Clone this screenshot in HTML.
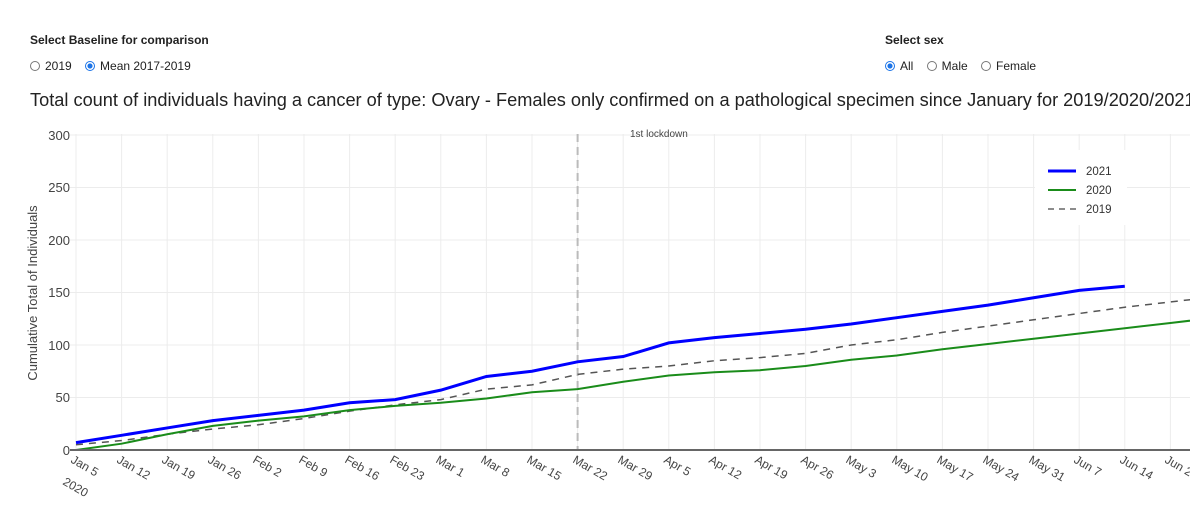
<!DOCTYPE html>
<html><head><meta charset="utf-8"><style>
body{margin:0;width:1190px;height:522px;background:#fff;overflow:hidden;font-family:"Liberation Sans",sans-serif;position:relative}
.h{position:absolute;font-size:12px;font-weight:bold;color:#222}
.r{position:absolute;font-size:12px;color:#222;display:flex;align-items:center}
.rb{display:inline-block;width:10px;height:10px;border:1px solid #777;border-radius:50%;margin-right:5px;box-sizing:border-box}
.rb.on{border:1.5px solid #1a73e8;background:radial-gradient(#1a73e8 0 2.3px,#fff 2.8px)}
.t{position:absolute;left:30px;top:90px;font-size:18.2px;color:#222;white-space:nowrap}
svg{position:absolute;left:0;top:0}
</style></head><body>
<div class="h" style="left:30px;top:33px">Select Baseline for comparison</div>
<div class="r" style="left:30px;top:59px"><span class="rb"></span>2019&nbsp;&nbsp;&nbsp;&nbsp;<span class="rb on"></span>Mean 2017-2019</div>
<div class="h" style="left:885px;top:33px">Select sex</div>
<div class="r" style="left:885px;top:59px"><span class="rb on"></span>All&nbsp;&nbsp;&nbsp;&nbsp;<span class="rb"></span>Male&nbsp;&nbsp;&nbsp;&nbsp;<span class="rb"></span>Female</div>
<div class="t">Total count of individuals having a cancer of type: Ovary - Females only confirmed on a pathological specimen since January for 2019/2020/2021</div>
<svg width="1190" height="522" font-family="Liberation Sans, sans-serif">
<g id="grid" stroke="#ececec" stroke-width="1"></g>
<g font-size="13" fill="#444" text-anchor="end">
<text x="70" y="140">300</text><text x="70" y="192">250</text><text x="70" y="245">200</text><text x="70" y="297">150</text><text x="70" y="350">100</text><text x="70" y="402">50</text><text x="70" y="455">0</text>
</g>
<text transform="translate(37,293) rotate(-90)" font-size="13" fill="#444" text-anchor="middle">Cumulative Total of Individuals</text>
<line x1="577.6" y1="134" x2="577.6" y2="450" stroke="#bbb" stroke-width="2" stroke-dasharray="8,5"/>
<text x="630" y="137" font-size="10" fill="#444">1st lockdown</text>
<g id="series" fill="none"></g>
<line x1="70" y1="450" x2="1190" y2="450" stroke="#666" stroke-width="2"/>
<g font-size="12" fill="#444" id="xl">
<text transform="translate(70,462) rotate(30)">Jan 5</text>
<text x="62" y="484" transform="rotate(30 62 484)">2020</text>
<text transform="translate(116,462) rotate(30)">Jan 12</text>
<text transform="translate(161,462) rotate(30)">Jan 19</text>
<text transform="translate(207,462) rotate(30)">Jan 26</text>
<text transform="translate(252,462) rotate(30)">Feb 2</text>
<text transform="translate(298,462) rotate(30)">Feb 9</text>
<text transform="translate(344,462) rotate(30)">Feb 16</text>
<text transform="translate(389,462) rotate(30)">Feb 23</text>
<text transform="translate(435,462) rotate(30)">Mar 1</text>
<text transform="translate(480,462) rotate(30)">Mar 8</text>
<text transform="translate(526,462) rotate(30)">Mar 15</text>
<text transform="translate(572,462) rotate(30)">Mar 22</text>
<text transform="translate(617,462) rotate(30)">Mar 29</text>
<text transform="translate(663,462) rotate(30)">Apr 5</text>
<text transform="translate(708,462) rotate(30)">Apr 12</text>
<text transform="translate(754,462) rotate(30)">Apr 19</text>
<text transform="translate(800,462) rotate(30)">Apr 26</text>
<text transform="translate(845,462) rotate(30)">May 3</text>
<text transform="translate(891,462) rotate(30)">May 10</text>
<text transform="translate(936,462) rotate(30)">May 17</text>
<text transform="translate(982,462) rotate(30)">May 24</text>
<text transform="translate(1028,462) rotate(30)">May 31</text>
<text transform="translate(1073,462) rotate(30)">Jun 7</text>
<text transform="translate(1119,462) rotate(30)">Jun 14</text>
<text transform="translate(1164,462) rotate(30)">Jun 21</text>
</g>
<rect x="1035" y="150" width="92" height="75" fill="#fff"/>
<line x1="1048" y1="171" x2="1076" y2="171" stroke="#0000ff" stroke-width="3"/>
<line x1="1048" y1="190" x2="1076" y2="190" stroke="#1a8c1a" stroke-width="2"/>
<line x1="1048" y1="209" x2="1076" y2="209" stroke="#666" stroke-width="1.5" stroke-dasharray="6,5"/>
<g font-size="11.5" fill="#333"><text x="1086" y="175">2021</text><text x="1086" y="194">2020</text><text x="1086" y="213">2019</text></g>
</svg>
<script>
var X=function(i){return 76+45.6*i},Y=function(v){return 450-v*1.05};
var g=document.getElementById('grid'),s='';
for(var i=0;i<25;i++)s+='<line x1="'+X(i)+'" y1="134" x2="'+X(i)+'" y2="450"/>';
for(var v=50;v<=300;v+=50)s+='<line x1="70" y1="'+Y(v)+'" x2="1190" y2="'+Y(v)+'"/>';
g.innerHTML=s;
function pl(d,att){return '<polyline points="'+d.map(function(v,i){return X(i)+','+Y(v)}).join(' ')+'" '+att+'/>'}
var b=[7,14,21,28,33,38,45,48,57,70,75,84,89,102,107,111,115,120,126,132,138,145,152,156];
var gr=[0,6,15,23,28,32,38,42,45,49,55,58,65,71,74,76,80,86,90,96,101,106,111,116,121,126];
var d=[5,9,15,20,24,30,37,43,48,58,62,72,77,80,85,88,92,100,105,112,118,124,130,136,141,146];
document.getElementById('series').innerHTML=
 pl(d,'stroke="#555" stroke-width="1.5" stroke-dasharray="7,6"')+
 pl(gr,'stroke="#1a8c1a" stroke-width="2"')+
 pl(b,'stroke="#0000ff" stroke-width="3"');
</script>
</body></html>
